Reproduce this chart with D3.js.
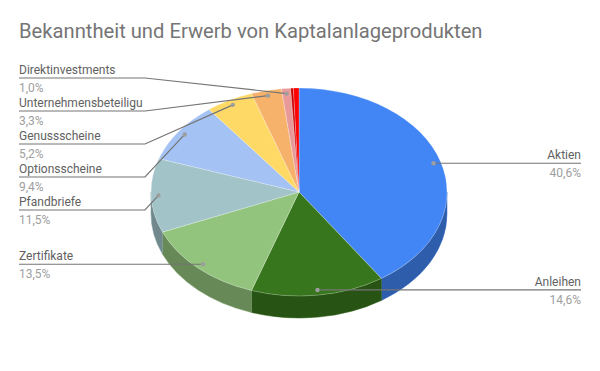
<!DOCTYPE html>
<html>
<head>
<meta charset="utf-8">
<script src="https://cdn.jsdelivr.net/npm/d3@7"></script>
<style>
  body { margin: 0; background: #fff; }
  text { font-family: Roboto, "Noto Sans", sans-serif; }
</style>
</head>
<body>
<main></main>
<script>
const width = 600, height = 371;

// data
const categories = ["Aktien", "Anleihen", "Zertifikate", "Pfandbriefe", "Optionsscheine",
  "Genussscheine", "Unternehmensbeteiligu", "Direktinvestments", "Sonstige", "Keine Angabe"];
const values = [40.6, 14.6, 13.5, 11.5, 9.4, 5.2, 3.3, 1.0, 0.3, 0.6];
const colors = ["#4285f4", "#38761d", "#93c47d", "#a2c4c9", "#a4c2f4",
  "#ffd966", "#f6b26b", "#ea9999", "#cc0000", "#ff0000"];
const title = "Bekanntheit und Erwerb von Kaptalanlageprodukten";

const cx = 299, cy = 192, rx = 148, ry = 104, depth = 22;
const labelMin = 0.009;   // slices below this share get no label
const labelTop = 78, labelGap = 33;

const de = d3.formatLocale({decimal: ",", thousands: ".", grouping: [3], currency: ["", " €"]});
const pct = de.format(".1%");

const svg = d3.select("main").append("svg")
    .attr("width", width)
    .attr("height", height);

svg.append("text")
    .attr("x", 19)
    .attr("y", 38)
    .attr("font-size", 20.2)
    .attr("fill", "#757575")
    .text(title);

const total = d3.sum(values);
const data = categories.map((c, i) => ({name: c, value: values[i], color: colors[i]}));
const arcs = d3.pie().sort(null).value(d => d.value)(data);

function pt(a, k, dy) {
  k = k || 1; dy = dy || 0;
  return [cx + rx * k * Math.sin(a), cy - ry * k * Math.cos(a) + dy];
}

// side walls (front half only)
const sides = svg.append("g");
arcs.forEach(d => {
  const s = Math.max(d.startAngle, Math.PI / 2);
  const e = Math.min(d.endAngle, Math.PI * 1.5);
  if (e <= s) return;
  const p0 = pt(s), p1 = pt(e), q1 = pt(e, 1, depth), q0 = pt(s, 1, depth);
  const str = "M" + p0 + "A" + rx + "," + ry + " 0 0 1 " + p1 +
      "L" + q1 + "A" + rx + "," + ry + " 0 0 0 " + q0 + "Z";
  sides.append("path")
      .attr("d", str)
      .attr("fill", d3.color(d.data.color).darker(1))
      .attr("stroke", d3.color(d.data.color).darker(0.6))
      .attr("stroke-width", 0.5);
});

// top faces
svg.append("g").selectAll("path")
  .data(arcs)
  .join("path")
    .attr("d", d => {
      const p0 = pt(d.startAngle), p1 = pt(d.endAngle);
      const large = d.endAngle - d.startAngle > Math.PI ? 1 : 0;
      return "M" + cx + "," + cy + "L" + p0 + "A" + rx + "," + ry + " 0 " + large + " 1 " + p1 + "Z";
    })
    .attr("fill", d => d.data.color)
    .attr("stroke", "#ffffff")
    .attr("stroke-opacity", 0.35)
    .attr("stroke-width", 0.7);

// labels
const labeled = arcs.filter(d => d.value / total >= labelMin).map(d => {
  const mid = (d.startAngle + d.endAngle) / 2;
  const dot = pt(mid, 0.95);
  return {d: d, mid: mid, dot: dot, right: Math.sin(mid) > 0, y: dot[1]};
});

const left = labeled.filter(l => !l.right).sort((a, b) => a.dot[1] - b.dot[1]);
const right = labeled.filter(l => l.right).sort((a, b) => a.dot[1] - b.dot[1]);
[left, right].forEach(side => {
  // push down to avoid overlap
  let prev = labelTop - labelGap;
  side.forEach(l => { l.y = Math.max(l.dot[1], prev + labelGap); prev = l.y; });
  // pull each touching cluster back up toward its dots
  let i = 0;
  while (i < side.length) {
    let j = i;
    while (j + 1 < side.length && side[j + 1].y - side[j].y <= labelGap + 0.01) j++;
    const group = side.slice(i, j + 1);
    let shift = d3.mean(group, l => l.y - l.dot[1]);
    const floor = i === 0 ? labelTop : side[i - 1].y + labelGap;
    shift = Math.min(shift, group[0].y - floor);
    group.forEach(l => { l.y -= shift; });
    i = j + 1;
  }
});

const lab = svg.append("g");
labeled.forEach(l => {
  const edgeX = l.right ? cx + rx + 6 : cx - rx - 6;
  const endX = l.right ? 581 : 19;
  const pts = Math.abs(l.y - l.dot[1]) < 0.5
      ? [l.dot, [endX, l.y]]
      : [l.dot, [edgeX, l.y], [endX, l.y]];
  lab.append("path")
      .attr("d", d3.line()(pts))
      .attr("fill", "none")
      .attr("stroke", "#757575")
      .attr("stroke-width", 1.2);
  lab.append("circle")
      .attr("cx", l.dot[0])
      .attr("cy", l.dot[1])
      .attr("r", 2.2)
      .attr("fill", "#9e9e9e");
  lab.append("text")
      .attr("x", endX)
      .attr("y", l.y - 4)
      .attr("text-anchor", l.right ? "end" : "start")
      .attr("font-size", 12)
      .attr("fill", "#616161")
      .text(l.d.data.name);
  lab.append("text")
      .attr("x", endX)
      .attr("y", l.y + 14)
      .attr("text-anchor", l.right ? "end" : "start")
      .attr("font-size", 12)
      .attr("fill", "#9e9e9e")
      .text(pct(l.d.value / total));
});
</script>
</body>
</html>
